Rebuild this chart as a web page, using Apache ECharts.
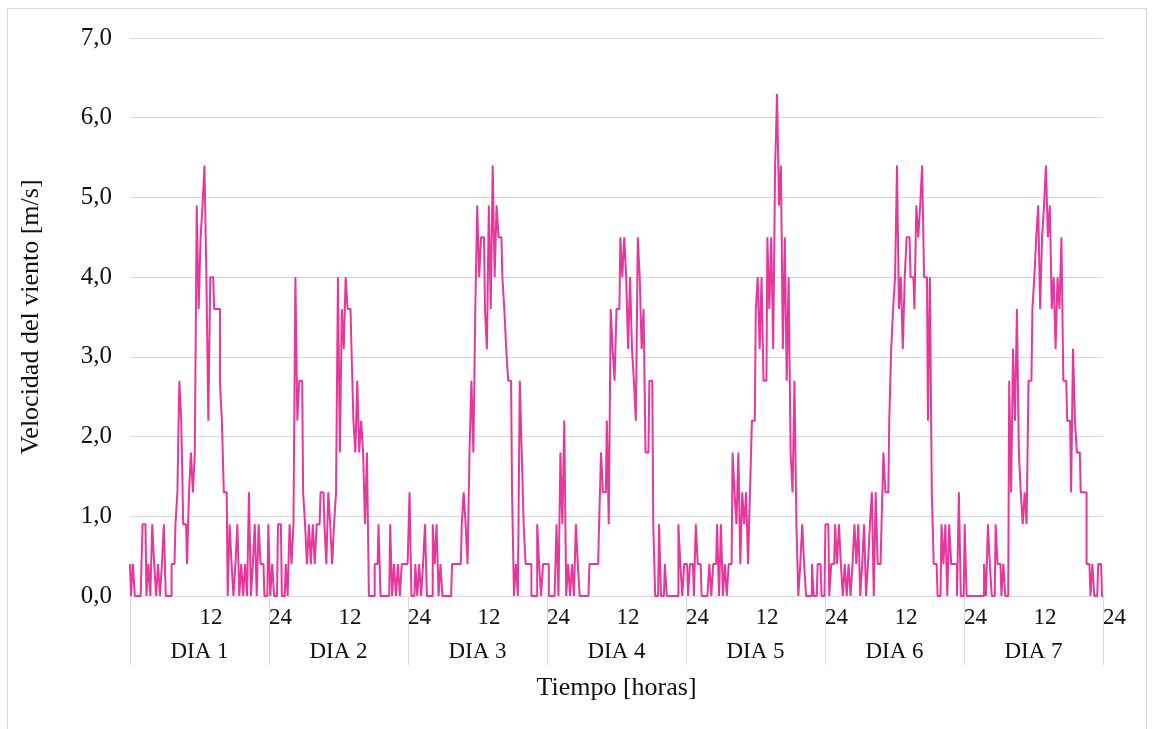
<!DOCTYPE html>
<html>
<head>
<meta charset="utf-8">
<script src="https://cdn.jsdelivr.net/npm/echarts@6/dist/echarts.min.js"></script>
<style>
html,body{margin:0;padding:0;background:#fff;}
#chart{position:absolute;left:0;top:0;width:1153px;height:729px;}
#frame{position:absolute;left:7px;top:8px;width:1138px;height:740px;border:1px solid #d9d9d9;pointer-events:none;}
</style>
</head>
<body>
<div id="chart"></div>
<div id="frame"></div>
<script>
// Day labels (lower category level)
const dayLabels = ['DIA 1','DIA 2','DIA 3','DIA 4','DIA 5','DIA 6','DIA 7'];
// Hour tick labels
const hourTicks = ['12','24'];
const hoursPerDay = 24;
const yMin = 0, yMax = 7, yStep = 1;

// Wind speed [m/s], 72 readings per day (every 20 min)
const dia1 = [0.4,0,0.4,0,0,0,0,0.9,0.9,0,0.4,0,0.9,0.4,0,0.4,0,0.4,0.9,0,0,0,0.4,0.4,0.9,1.3,2.7,2.2,0.9,0.9,0.4,1.3,1.8,1.3,1.8,4.9,3.6,4.5,4.9,5.4,4.0,2.2,4.0,4.0,3.6,3.6,3.6,2.7,2.2,1.3,1.3,0,0.9,0.4,0,0.4,0.9,0,0.4,0,0.4,0,1.3,0,0.4,0.9,0,0.9,0.4,0.4,0,0];
const dia2 = [0.9,0,0.4,0,0,0.9,0.9,0,0,0.4,0,0.9,0.4,0.9,4.0,2.2,2.7,2.7,1.3,0.9,0.4,0.9,0.4,0.9,0.4,0.9,0.9,1.3,1.3,0.9,0.4,1.3,0.9,0.4,0.9,1.3,4.0,1.8,3.6,3.1,4.0,3.6,3.6,3.1,2.2,1.8,2.7,1.8,2.2,1.8,0.9,1.8,0,0,0,0.4,0.4,0.9,0,0,0,0,0,0.9,0,0.4,0,0.4,0,0.4,0.4,0.4];
const dia3 = [0.4,1.3,0,0,0.4,0,0.4,0,0.4,0.9,0,0,0,0.9,0.4,0.9,0,0.4,0,0,0,0,0,0.4,0.4,0.4,0.4,0.4,0.9,1.3,0.9,0.4,1.8,2.7,1.8,3.6,4.9,4.0,4.5,4.5,3.6,3.1,4.9,3.6,5.4,4.0,4.9,4.5,4.5,4.0,3.6,3.1,2.7,2.7,1.3,0,0.4,0,2.7,1.8,0.9,0.4,0.4,0.4,0,0,0,0.9,0.4,0,0.4,0.4];
const dia4 = [0.4,0,0,0,0,0.9,0,1.8,0.9,2.2,0,0.4,0,0.4,0,0.9,0.4,0,0,0,0,0,0.4,0.4,0.4,0.4,0.4,0.9,1.8,1.3,1.3,2.2,0.9,3.6,3.1,2.7,3.6,3.6,4.5,4.0,4.5,4.0,3.1,4.0,3.1,2.7,2.2,4.5,4.0,3.1,3.6,1.8,1.8,2.7,2.7,0.9,0,0,0.9,0,0,0.4,0,0,0,0,0,0,0.9,0.4,0,0.4];
const dia5 = [0.4,0,0.4,0.4,0,0.9,0.4,0.4,0,0,0,0,0.4,0,0.4,0.4,0.9,0,0.9,0,0.4,0,0.4,0.4,1.8,1.3,0.9,1.8,0.4,1.3,0.9,1.3,0.4,1.3,2.2,2.2,3.6,4.0,3.1,4.0,2.7,2.7,4.5,3.6,4.5,3.1,5.4,6.3,4.9,5.4,3.1,4.5,2.7,4.0,1.8,1.3,2.7,0.9,0,0.4,0.9,0.4,0,0,0,0.4,0,0,0.4,0.4,0,0];
const dia6 = [0.9,0.9,0,0.4,0.4,0.9,0.4,0.9,0.4,0,0.4,0,0.4,0,0.4,0.9,0.4,0.9,0,0.4,0.9,0,0.4,0.9,1.3,0,1.3,0.4,0.4,0.9,1.8,1.3,1.3,2.2,3.1,3.6,4.0,5.4,3.6,4.0,3.1,4.0,4.5,4.5,4.0,4.0,3.6,4.9,4.5,4.9,5.4,4.0,4.0,2.2,4.0,1.3,0.4,0.4,0,0,0.9,0.4,0.9,0,0.9,0.4,0.4,0.4,0,1.3,0,0];
const dia7 = [0.9,0,0,0,0,0,0,0,0,0,0.4,0,0.9,0.4,0,0,0.9,0.4,0.4,0,0.4,0,0,2.7,1.3,3.1,2.2,3.6,1.8,1.3,0.9,1.3,0.9,2.7,2.7,3.6,4.0,4.5,4.9,3.6,4.5,4.9,5.4,4.5,4.9,3.6,4.0,3.1,4.0,3.6,4.5,2.7,2.7,2.2,2.2,1.3,3.1,2.2,1.8,1.8,1.3,1.3,1.3,0.4,0.4,0,0.4,0,0,0.4,0.4,0];

const allDays = [dia1,dia2,dia3,dia4,dia5,dia6,dia7];
const values = [].concat(...allDays);
const totalHours = hoursPerDay * dayLabels.length;
const seriesData = values.map((v, i) => [i * totalHours / (values.length - 1), v]);

const FONT = "'Liberation Serif','Times New Roman',serif";
const chart = echarts.init(document.getElementById('chart'), null, {renderer: 'canvas'});
chart.setOption({
  animation: false,
  backgroundColor: '#ffffff',
  grid: {left: 130, right: 50, top: 38, bottom: 133, containLabel: false},
  xAxis: [
    {
      type: 'value', min: 0, max: totalHours, interval: 12,
      name: 'Tiempo [horas]', nameLocation: 'middle', nameGap: 79,
      nameTextStyle: {fontFamily: FONT, fontSize: 26, color: '#111'},
      axisLine: {show: true, lineStyle: {color: '#d9d9d9', width: 1}},
      axisTick: {show: false},
      splitLine: {show: false},
      axisLabel: {
        show: true, align: 'left', margin: 10,
        fontFamily: FONT, fontSize: 23, color: '#111',
        formatter: v => v === 0 ? '' : (v % hoursPerDay === 0 ? hourTicks[1] : hourTicks[0])
      }
    },
    {
      type: 'category', position: 'bottom', data: dayLabels, boundaryGap: true,
      axisLine: {show: false},
      axisTick: {show: true, length: 69, lineStyle: {color: '#d9d9d9', width: 1}},
      axisLabel: {margin: 44, fontFamily: FONT, fontSize: 23, color: '#111'},
      splitLine: {show: false}
    }
  ],
  yAxis: {
    type: 'value', min: yMin, max: yMax, interval: yStep,
    name: 'Velocidad del viento [m/s]', nameLocation: 'middle', nameGap: 86,
    nameTextStyle: {fontFamily: FONT, fontSize: 26, color: '#111'},
    axisLine: {show: false}, axisTick: {show: false},
    splitLine: {show: true, lineStyle: {color: '#d9d9d9', width: 1}},
    axisLabel: {
      margin: 18, fontFamily: FONT, fontSize: 25, color: '#111',
      formatter: v => v.toFixed(1).replace('.', ',')
    }
  },
  series: [{
    type: 'line', xAxisIndex: 0, data: seriesData,
    step: 'middle',
    showSymbol: false, symbol: 'none',
    lineStyle: {color: '#E8379B', width: 2},
    itemStyle: {color: '#E8379B'}
  }]
});
</script>
</body>
</html>
